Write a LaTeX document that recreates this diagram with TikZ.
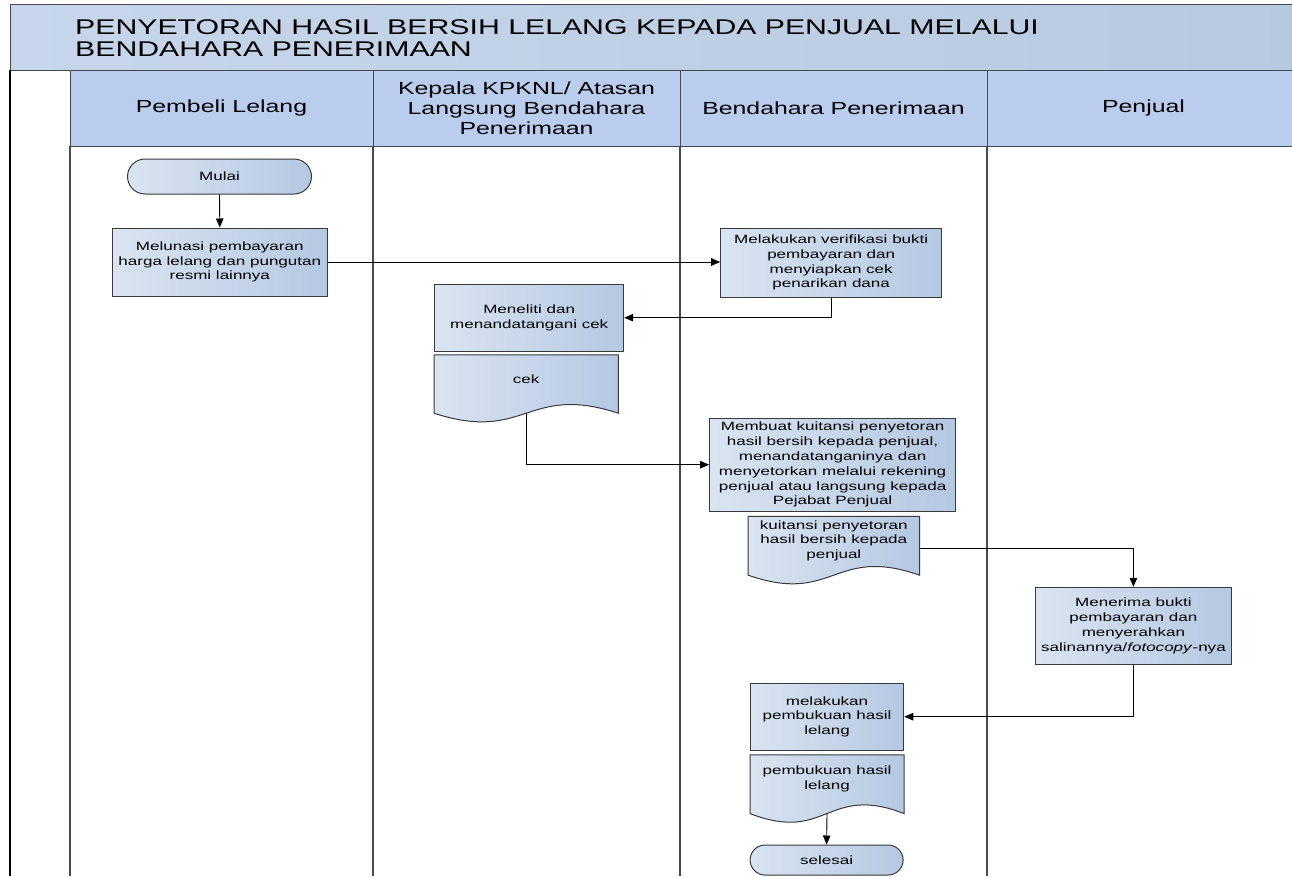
\documentclass[tikz,border=0pt]{standalone}
\usepackage{fontspec}
\setmainfont{Liberation Sans}[FakeStretch=1.42]
\usetikzlibrary{arrows.meta,shapes.misc,calc}
\definecolor{titleL}{HTML}{C7D6EA}
\definecolor{titleR}{HTML}{B7C9E1}
\definecolor{headfill}{HTML}{BACDEE}
\definecolor{boxL}{HTML}{DAE4F1}
\definecolor{boxR}{HTML}{B5C8E2}
\definecolor{frameline}{HTML}{454A50}
\definecolor{boxline}{HTML}{3A3A3A}
\newcommand\dgboxfont{\fontsize{12}{14.8}\selectfont}
\newcommand\dgheadfont{\fontsize{17.5}{20}\selectfont}
\newcommand\dgtitlefont{\fontsize{21.3}{22}\selectfont}
\newcommand\dgdoc[1]{\path[docshape] (#1.north west) -- (#1.north east) -- ([yshift=-10pt]#1.south east) .. controls ([yshift=20pt]#1.south) and ([yshift=-40pt]#1.south) .. ([yshift=-10pt]#1.south west) -- cycle;}
\pgfdeclarelayer{bg}\pgfdeclarelayer{docs}\pgfsetlayers{bg,docs,main}
\begin{document}
\begin{tikzpicture}[x=1pt,y=-1pt,
  proc/.style={rectangle, draw=boxline, line width=1pt, left color=boxL, right color=boxR, align=center, font=\dgboxfont, inner sep=0pt},
  term/.style={rounded rectangle, draw=boxline, line width=1pt, left color=boxL, right color=boxR, align=center, font=\dgboxfont, inner sep=0pt},
  docnode/.style={rectangle, align=center, font=\dgboxfont, inner sep=0pt},
  docshape/.style={draw=boxline, line width=1pt, left color=boxL, right color=boxR},
  conn/.style={draw=black, line width=0.9pt, -{Triangle[length=9pt,width=7.5pt]}},
  lanehead/.style={rectangle, draw=frameline, line width=1pt, fill=headfill, align=center, font=\dgheadfont, inner sep=0pt, minimum height=76pt},
  laneline/.style={draw=frameline, line width=1.2pt},
]
\useasboundingbox (0,0) rectangle (1292,876);
\begin{pgfonlayer}{bg}
  \fill[white] (0,0) rectangle (1292,876);
  \node[draw=frameline, line width=1.2pt, left color=titleL, right color=titleR, minimum width=1300pt, minimum height=66pt, anchor=north west, inner sep=0pt] (band) at (10,4) {};
  \node[lanehead, minimum width=303pt] (h1) at (221.5,108) {Pembeli Lelang};
  \node[lanehead, minimum width=307pt] (h2) at (526.5,108) {Kepala KPKNL/ Atasan\\Langsung Bendahara\\Penerimaan};
  \node[lanehead, minimum width=307pt] (h3) at (833.5,108) {Bendahara Penerimaan};
  \node[lanehead, minimum width=313pt] (h4) at (1143.5,108) {Penjual};
  \draw[draw=black, line width=1.5pt] (10,70) -- (10,876);
  \draw[laneline] (70,146) -- (70,876);
  \draw[laneline] (373,146) -- (373,876);
  \draw[laneline] (680,146) -- (680,876);
  \draw[laneline] (987,146) -- (987,876);
\end{pgfonlayer}
\node[anchor=north west, align=left, font=\dgtitlefont, inner sep=0pt] (title) at (75,19) {PENYETORAN HASIL BERSIH LELANG KEPADA PENJUAL MELALUI\\BENDAHARA PENERIMAAN};

\node[term, minimum width=184pt, minimum height=35pt] (mulai) at (219.5,176.5) {Mulai};
\node[proc, minimum width=215.5pt, minimum height=68pt] (melunasi) at (219.8,262) {Melunasi pembayaran\\harga lelang dan pungutan\\resmi lainnya};
\node[proc, minimum width=221pt, minimum height=69pt] (verif) at (831.2,262.5) {Melakukan verifikasi bukti\\pembayaran dan\\menyiapkan cek\\penarikan dana};
\node[proc, minimum width=189pt, minimum height=67pt] (meneliti) at (529.2,317.7) {Meneliti dan\\menandatangani cek};
\node[docnode, minimum width=184pt, minimum height=48pt] (cek) at (526.2,379) {cek};
\node[proc, minimum width=246pt, minimum height=93pt] (membuat) at (832.6,464.7) {Membuat kuitansi penyetoran\\hasil bersih kepada penjual,\\menandatanganinya dan\\menyetorkan melalui rekening\\penjual atau langsung kepada\\Pejabat Penjual};
\node[docnode, minimum width=171pt, minimum height=48.3pt] (kuit) at (833.8,540.8) {kuitansi penyetoran\\hasil bersih kepada\\penjual};
\node[proc, minimum width=196.3pt, minimum height=77pt] (menerima) at (1133.4,625.8) {Menerima bukti\\pembayaran dan\\menyerahkan\\salinannya/\textit{fotocopy}-nya};
\node[proc, minimum width=153.6pt, minimum height=66.7pt] (melakukan) at (827,716.7) {melakukan\\pembukuan hasil\\lelang};
\node[docnode, minimum width=153.6pt, minimum height=48.3pt] (pembukuan) at (827,779.2) {pembukuan hasil\\lelang};
\node[term, minimum width=153pt, minimum height=30pt] (selesai) at (826.6,860) {selesai};

\begin{pgfonlayer}{docs}
  \dgdoc{cek}
  \dgdoc{kuit}
  \dgdoc{pembukuan}
\end{pgfonlayer}

\draw[conn] (mulai.south) -- (melunasi.north);
\draw[conn] (melunasi.east) -- (melunasi.east -| verif.west);
\draw[conn] (verif.south) |- (meneliti.east);
\draw[conn] ([yshift=-10pt]cek.south) |- (membuat.west);
\draw[conn] ([yshift=-8pt]kuit.east) -| (menerima.north);
\draw[conn] (menerima.south) |- (melakukan.east);
\draw[conn] ([yshift=-10pt]pembukuan.south) -- (selesai.north);
\end{tikzpicture}
\end{document}
